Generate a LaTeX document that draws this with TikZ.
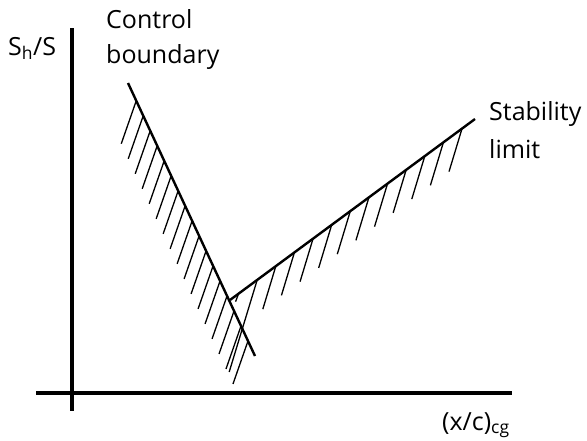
\documentclass[tikz,border=0pt]{standalone}
\usepackage{fontspec}
\setmainfont{Open Sans}
\usetikzlibrary{calc}
\begin{document}
\begin{tikzpicture}[x=1pt,y=-1pt,
  axis/.style={line width=3.8pt},
  boundary/.style={line width=2.4pt},
  hatchline/.style={line width=1.3pt},
  lbl/.style={inner sep=0pt,anchor=base west,font=\fontsize{25}{30}\selectfont}]
\useasboundingbox (0,0) rectangle (587,440);
% axes
\coordinate (yTop) at (72,28);
\coordinate (yBot) at (72,411);
\coordinate (xL) at (36,393);
\coordinate (xR) at (512,393);
\draw[axis] (yTop) -- (yBot);
\draw[axis] (xL) -- (xR);
% control boundary
\coordinate (cA) at (128,83);
\coordinate (cB) at (255,356);
\draw[boundary] (cA) -- (cB);
\foreach \i in {0,...,16}{
  \draw[hatchline] ($(cA)!{0.065+0.055*\i}!(cB)$) -- ++(-15,43);
}
% stability limit
\coordinate (sA) at (230,300);
\coordinate (sB) at (475,119);
\draw[boundary] (sA) -- (sB);
\draw[hatchline] ($(sA)!0.035!(sB)$) -- ++(-3,8);
\draw[hatchline] ($(sA)!0.111!(sB)$) -- ++(-28,92);
\foreach \k in {2,...,12}{
  \draw[hatchline] ($(sA)!{0.035+0.076*\k}!(sB)$) -- ++(-13,43);
}
% labels
\node[lbl] (ylab) at (8,55) {S\textsubscript{h}/S};
\node[lbl] (ctl1) at (106,28) {Control};
\node[lbl] (ctl2) at (106,63) {boundary};
\node[lbl] (stab1) at (489,120) {Stability};
\node[lbl] (stab2) at (489,158) {limit};
\node[lbl] (xlab) at (442,430) {(x/c)\textsubscript{cg}};
\end{tikzpicture}
\end{document}
